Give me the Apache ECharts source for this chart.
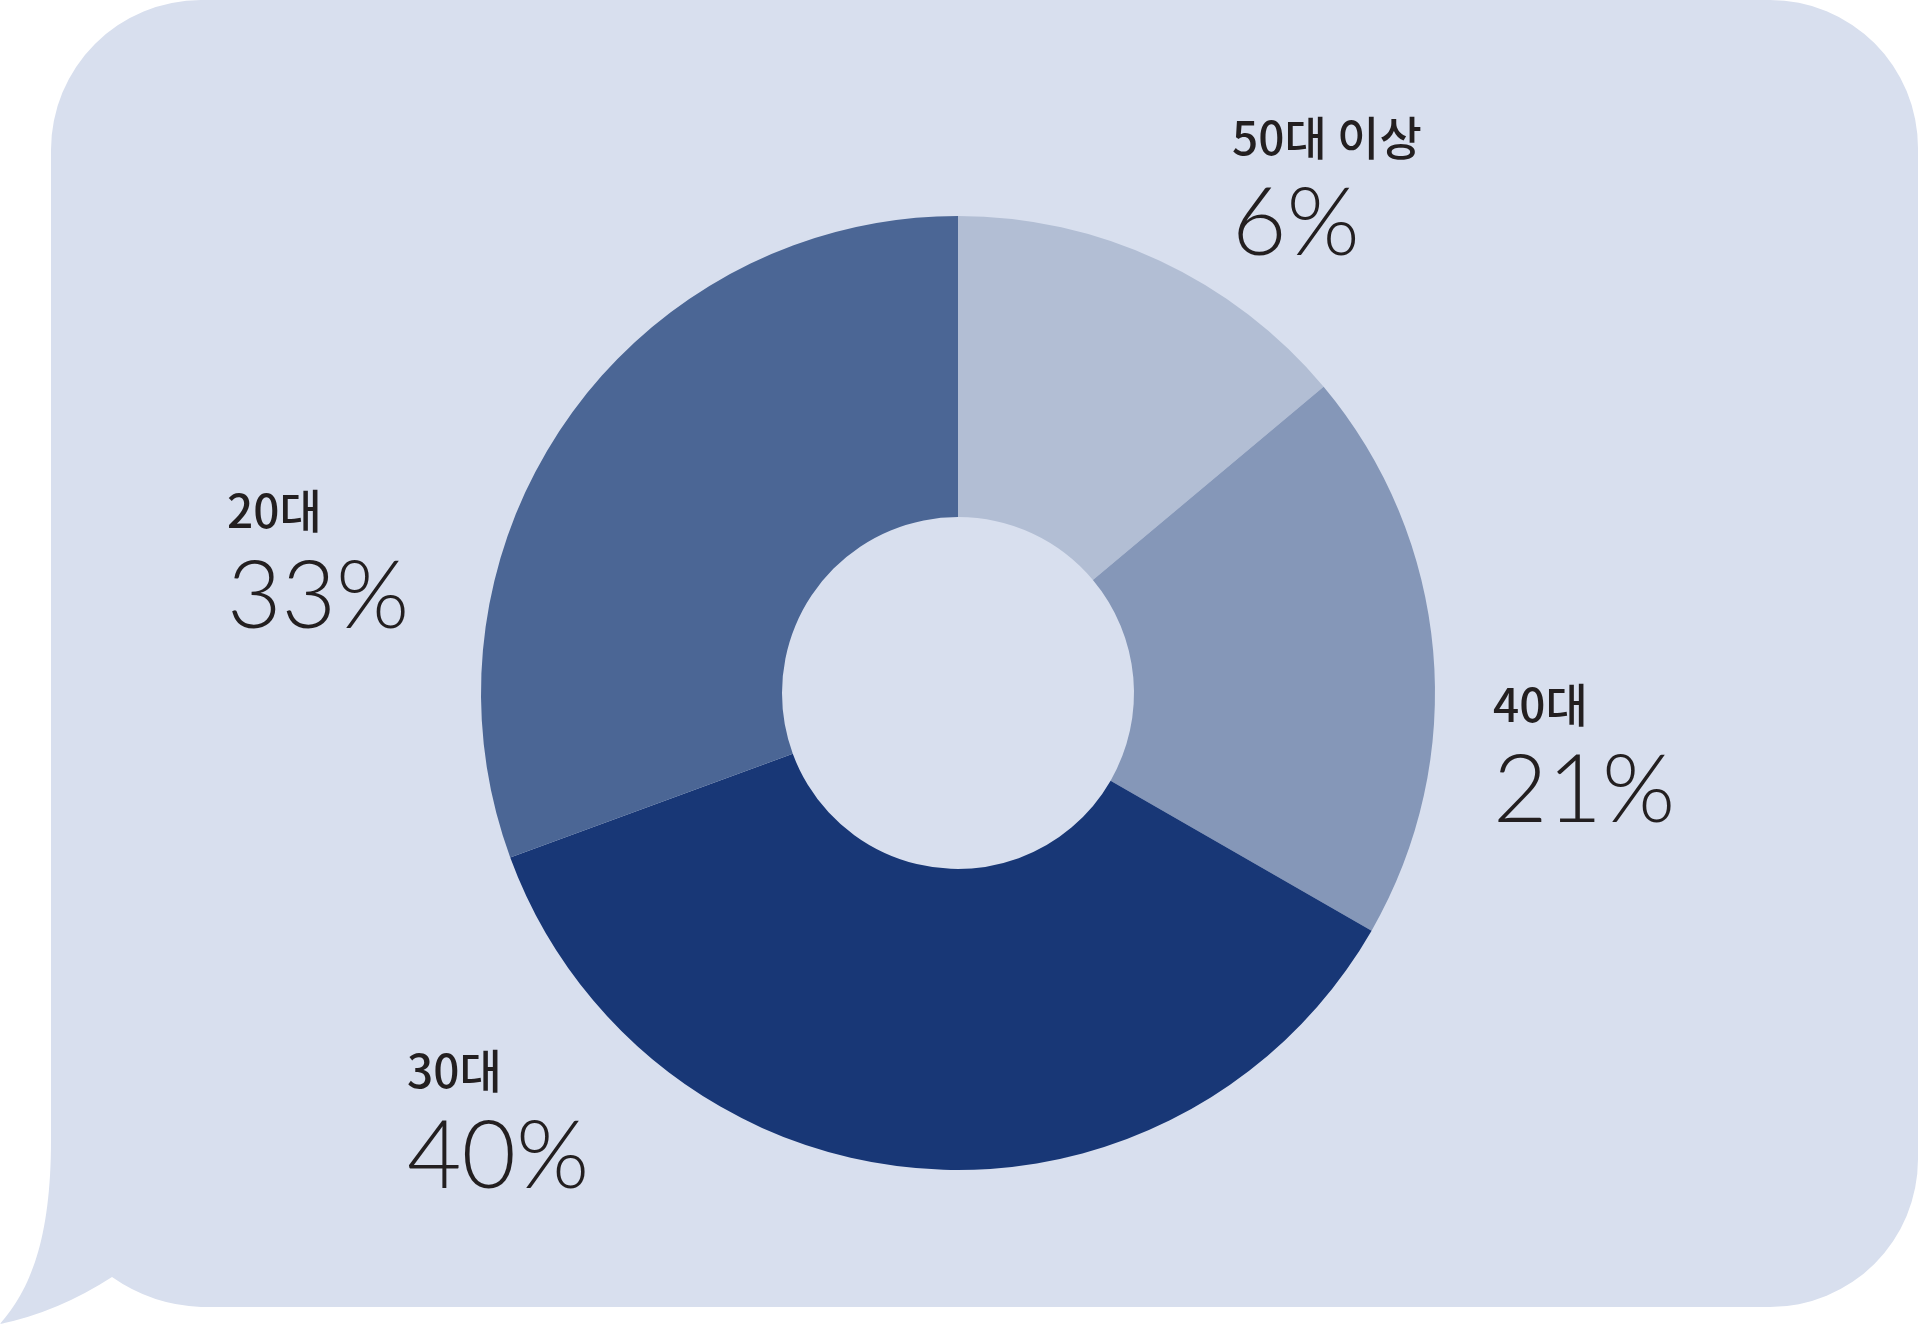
<!DOCTYPE html>
<html>
<head>
<meta charset="utf-8">
<script src="https://cdn.jsdelivr.net/npm/echarts@6/dist/echarts.min.js"></script>
<style>
html,body{margin:0;padding:0;background:#ffffff;}
#chart{width:1919px;height:1325px;}
</style>
</head>
<body>
<div id="chart"></div>
<script>
// ---- data ----
var categories = ['50대 이상', '40대', '30대', '20대'];
var labelPercents = ['6%', '21%', '40%', '33%'];          // printed values
var sliceShares = [13.9, 19.4, 36.1, 30.6];                // slice sizes as drawn in the picture
var sliceColors = ['#b2bed4', '#8597b8', '#183776', '#4b6695'];

// ---- layout (label anchors, px) ----
var labelAnchors = [[1232, 108], [1493, 675], [407, 1041], [227, 481]];

var chart = echarts.init(document.getElementById('chart'), null, {renderer: 'canvas'});

var seriesData = categories.map(function (c, i) {
  return {name: c, value: sliceShares[i], itemStyle: {color: sliceColors[i]}};
});

var bubblePath = 'M201,0 L1770,0 A148,148 0 0 1 1918,148 L1918,1159 A148,148 0 0 1 1770,1307 ' +
  'L201,1307 Q152,1305 112,1277 Q58,1312 0,1324 C30,1290 51,1240 51,1140 L51,150 A150,150 0 0 1 201,0 Z';

chart.setOption({
  animation: false,
  backgroundColor: '#ffffff',
  series: [{
    type: 'custom',
    coordinateSystem: 'none',
    silent: true,
    z: 0,
    data: [[0]],
    renderItem: function () {
      return {
        type: 'path',
        shape: {pathData: bubblePath, x: 0, y: 0, width: 1918, height: 1324, layout: 'cover'},
        style: {fill: '#d8dfee', stroke: null}
      };
    }
  }, {
    type: 'pie',
    z: 5,
    center: [958, 693],
    radius: [176, 477],
    startAngle: 90,
    clockwise: true,
    avoidLabelOverlap: false,
    itemStyle: {borderWidth: 0},
    emphasis: {disabled: true},
    label: {
      show: true,
      position: 'outside',
      color: '#231f20',
      formatter: function (p) {
        return '{a|' + categories[p.dataIndex] + '}\n{b|' + labelPercents[p.dataIndex] + '}';
      },
      rich: {
        a: {fontFamily: '"Noto Sans CJK KR"', fontWeight: 500, fontSize: 46, lineHeight: 60, color: '#231f20'},
        b: {fontFamily: 'Lato, "Noto Sans"', fontWeight: 300, fontSize: 94, lineHeight: 114, color: '#231f20'}
      }
    },
    labelLine: {show: false},
    labelLayout: function (p) {
      var a = labelAnchors[p.dataIndex];
      return {x: a[0], y: a[1], align: 'left', verticalAlign: 'top'};
    },
    data: seriesData
  }]
});
</script>
</body>
</html>
